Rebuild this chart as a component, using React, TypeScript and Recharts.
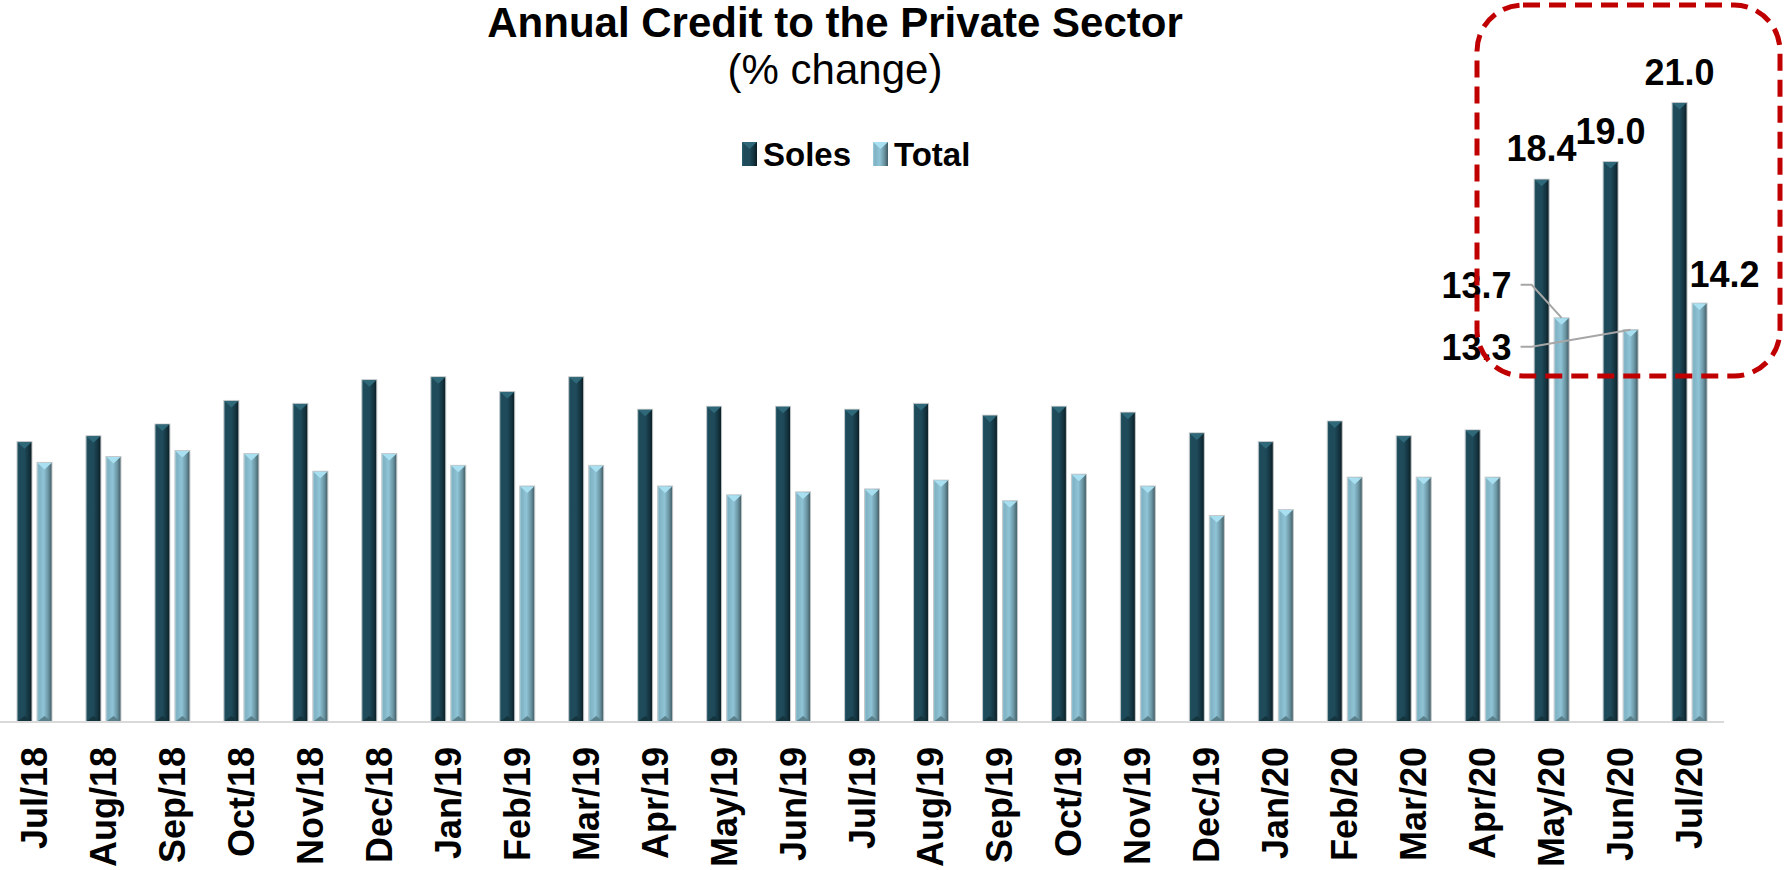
import { Bar, BarChart, LabelList, XAxis, YAxis } from "recharts";

// values (annual % change)
const MONTHS = [
  "Jul/18", "Aug/18", "Sep/18", "Oct/18", "Nov/18", "Dec/18",
  "Jan/19", "Feb/19", "Mar/19", "Apr/19", "May/19", "Jun/19",
  "Jul/19", "Aug/19", "Sep/19", "Oct/19", "Nov/19", "Dec/19",
  "Jan/20", "Feb/20", "Mar/20", "Apr/20", "May/20", "Jun/20", "Jul/20",
];
const SOLES = [
  9.5, 9.7, 10.1, 10.9, 10.8, 11.6, 11.7, 11.2, 11.7, 10.6, 10.7, 10.7,
  10.6, 10.8, 10.4, 10.7, 10.5, 9.8, 9.5, 10.2, 9.7, 9.9, 18.4, 19.0, 21.0,
];
const TOTAL = [
  8.8, 9.0, 9.2, 9.1, 8.5, 9.1, 8.7, 8.0, 8.7, 8.0, 7.7, 7.8,
  7.9, 8.2, 7.5, 8.4, 8.0, 7.0, 7.2, 8.3, 8.3, 8.3, 13.7, 13.3, 14.2,
];
const Y_DOMAIN = [0, 24];
const FIRST_LABELLED = 22;

const FONT = "Arial, 'Liberation Sans', Helvetica, sans-serif";

const data = MONTHS.map((month, i) => ({ month, soles: SOLES[i], total: TOTAL[i] }));

type BarShapeProps = { x?: number; y?: number; width?: number; height?: number };

function bevelBar(grad: string, top: string, bottom: string) {
  return (props: BarShapeProps) => {
    const x = Number(props.x);
    const y = Number(props.y);
    const w = Number(props.width);
    const h = Number(props.height);
    if (!h || h <= 0) return <g />;
    return (
      <g>
        <rect x={x} y={y} width={w} height={h} fill={`url(#${grad})`} stroke="#C4C8CA" strokeWidth={1} />
        <polygon points={`${x + 0.5},${y + 0.5} ${x + w - 0.5},${y + 0.5} ${x + w / 2},${y + 7}`} fill={top} />
        <polygon points={`${x + 0.5},${y + h - 0.5} ${x + w - 0.5},${y + h - 0.5} ${x + w / 2},${y + h - 6}`} fill={bottom} />
      </g>
    );
  };
}

const SolesShape = bevelBar("solesGrad", "#2E6879", "#14343E");
const TotalShape = bevelBar("totalGrad", "#A9E0F1", "#5A808C");

function MonthTick(props: { x?: number; y?: number; payload?: { value: string } }) {
  const x = Number(props.x);
  const y = Number(props.y);
  return (
    <text
      transform={`translate(${x + 12.5},${y + 17}) rotate(-90)`}
      textAnchor="end"
      fontFamily={FONT}
      fontWeight="bold"
      fontSize={36}
      fill="#000"
    >
      {props.payload?.value}
    </text>
  );
}

const labelStyle = { fontFamily: FONT, fontWeight: "bold" as const, fontSize: 36, fill: "#000" };

function SolesLabel(p: any) {
  if (p.index < FIRST_LABELLED) return null;
  const cx = Number(p.x) + Number(p.width) / 2;
  return (
    <text x={cx} y={Number(p.y) - 18} textAnchor="middle" {...labelStyle}>
      {Number(p.value).toFixed(1)}
    </text>
  );
}

function TotalLabel(p: any) {
  if (p.index < FIRST_LABELLED) return null;
  const cx = Number(p.x) + Number(p.width) / 2;
  const top = Number(p.y);
  const txt = Number(p.value).toFixed(1);
  if (p.index === FIRST_LABELLED) {
    return (
      <g>
        <polyline points={`${cx - 41},${top - 33} ${cx - 30},${top - 33} ${cx},${top}`} fill="none" stroke="#A6A6A6" strokeWidth={2} />
        <text x={cx - 50} y={top - 20} textAnchor="end" {...labelStyle}>{txt}</text>
      </g>
    );
  }
  if (p.index === FIRST_LABELLED + 1) {
    return (
      <g>
        <polyline points={`${cx - 110},${top + 17} ${cx - 99},${top + 17} ${cx},${top}`} fill="none" stroke="#A6A6A6" strokeWidth={2} />
        <text x={cx - 119} y={top + 30} textAnchor="end" {...labelStyle}>{txt}</text>
      </g>
    );
  }
  return (
    <text x={cx + 25} y={top - 16} textAnchor="middle" {...labelStyle}>{txt}</text>
  );
}

export default function App() {
  return (
    <div style={{ position: "absolute", left: 0, top: 0, width: 1785, height: 870, background: "#fff" }}>
      <svg width={0} height={0} style={{ position: "absolute" }}>
        <defs>
          <linearGradient id="solesGrad" x1="0" x2="1" y1="0" y2="0">
            <stop offset="0" stopColor="#2C6070" />
            <stop offset="0.12" stopColor="#1E4B5A" />
            <stop offset="0.5" stopColor="#1F4A59" />
            <stop offset="0.78" stopColor="#143440" />
            <stop offset="1" stopColor="#0A1B21" />
          </linearGradient>
          <linearGradient id="totalGrad" x1="0" x2="1" y1="0" y2="0">
            <stop offset="0" stopColor="#9CCDDD" />
            <stop offset="0.12" stopColor="#7FB2C3" />
            <stop offset="0.45" stopColor="#8FC4D6" />
            <stop offset="0.75" stopColor="#6B95A3" />
            <stop offset="1" stopColor="#3E5961" />
          </linearGradient>
        </defs>
      </svg>

      <BarChart
        width={1785}
        height={870}
        data={data}
        margin={{ top: 14, right: 61, bottom: 0, left: 0 }}
        barSize={15}
        barGap={5}
      >
        <XAxis
          dataKey="month"
          interval={0}
          height={148}
          tickLine={false}
          axisLine={{ stroke: "#D9D9D9", strokeWidth: 2 }}
          tick={<MonthTick />}
        />
        <YAxis hide domain={Y_DOMAIN} />
        <Bar dataKey="soles" name="Soles" fill="#1F4A59" shape={SolesShape} isAnimationActive={false}>
          <LabelList dataKey="soles" content={SolesLabel} />
        </Bar>
        <Bar dataKey="total" name="Total" fill="#8CC1D3" shape={TotalShape} isAnimationActive={false}>
          <LabelList dataKey="total" content={TotalLabel} />
        </Bar>
      </BarChart>

      <svg
        width={1785}
        height={870}
        style={{ position: "absolute", left: 0, top: 0, pointerEvents: "none" }}
      >
        <text x={835} y={37} textAnchor="middle" fontFamily={FONT} fontWeight="bold" fontSize={42}>
          Annual Credit to the Private Sector
        </text>
        <text x={835} y={84} textAnchor="middle" fontFamily={FONT} fontSize={42}>
          (% change)
        </text>
        <g fontFamily={FONT} fontWeight="bold" fontSize={33}>
          <rect x={742} y={142} width={15} height={24} fill="url(#solesGrad)" />
          <polygon points="742,142 757,142 749.5,149" fill="#2E6879" />
          <text x={763} y={166}>Soles</text>
          <rect x={873} y={142} width={15} height={24} fill="url(#totalGrad)" />
          <polygon points="873,142 888,142 880.5,149" fill="#A9E0F1" />
          <text x={894} y={166}>Total</text>
        </g>
        <rect
          x={1477}
          y={5}
          width={303}
          height={371}
          rx={46}
          fill="none"
          stroke="#C00000"
          strokeWidth={5}
          strokeDasharray="17 9"
        />
      </svg>
    </div>
  );
}
